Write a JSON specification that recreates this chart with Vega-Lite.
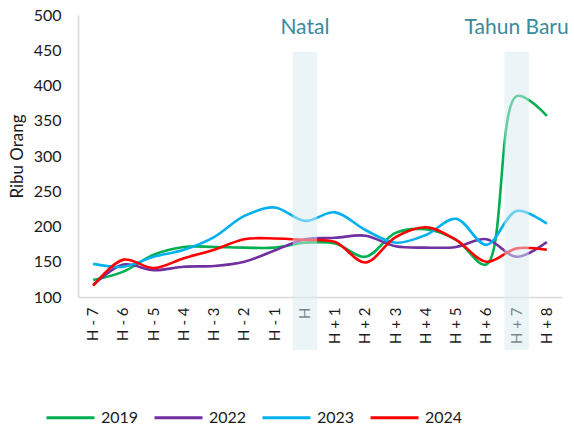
{
  "$schema": "https://vega.github.io/schema/vega-lite/v6.json",
  "autosize": {"type": "none"},
  "width": 484,
  "height": 282,
  "padding": {"left": 78, "top": 15, "right": 12, "bottom": 131},
  "background": "white",
  "config": {
    "view": {"stroke": null},
    "font": "Lato",
    "axis": {"grid": false, "ticks": false, "tickSize": 0, "domainColor": "#D9D9D9", "domainWidth": 1.5, "labelColor": "#1a1a1a", "titleColor": "#1a1a1a", "labelFont": "Lato", "titleFont": "Lato"},
    "axisY": {"labelOverlap": false, "labelFontSize": 16, "labelPadding": 17, "titleFontSize": 17, "titleFontWeight": "normal", "titlePadding": 7}
  },
  "datasets": {
    "series": [
      {"hari": "H - 7", "tahun": "2019", "nilai": 124},
      {"hari": "H - 6", "tahun": "2019", "nilai": 136},
      {"hari": "H - 5", "tahun": "2019", "nilai": 160},
      {"hari": "H - 4", "tahun": "2019", "nilai": 171},
      {"hari": "H - 3", "tahun": "2019", "nilai": 171},
      {"hari": "H - 2", "tahun": "2019", "nilai": 170},
      {"hari": "H - 1", "tahun": "2019", "nilai": 170},
      {"hari": "H", "tahun": "2019", "nilai": 177},
      {"hari": "H + 1", "tahun": "2019", "nilai": 176},
      {"hari": "H + 2", "tahun": "2019", "nilai": 157},
      {"hari": "H + 3", "tahun": "2019", "nilai": 191},
      {"hari": "H + 4", "tahun": "2019", "nilai": 196},
      {"hari": "H + 5", "tahun": "2019", "nilai": 181},
      {"hari": "H + 6", "tahun": "2019", "nilai": 146},
      {"hari": "H + 7", "tahun": "2019", "nilai": 385},
      {"hari": "H + 8", "tahun": "2019", "nilai": 357},
      {"hari": "H - 7", "tahun": "2022", "nilai": 117},
      {"hari": "H - 6", "tahun": "2022", "nilai": 146},
      {"hari": "H - 5", "tahun": "2022", "nilai": 138},
      {"hari": "H - 4", "tahun": "2022", "nilai": 143},
      {"hari": "H - 3", "tahun": "2022", "nilai": 144},
      {"hari": "H - 2", "tahun": "2022", "nilai": 150},
      {"hari": "H - 1", "tahun": "2022", "nilai": 166},
      {"hari": "H", "tahun": "2022", "nilai": 182},
      {"hari": "H + 1", "tahun": "2022", "nilai": 184},
      {"hari": "H + 2", "tahun": "2022", "nilai": 187},
      {"hari": "H + 3", "tahun": "2022", "nilai": 172},
      {"hari": "H + 4", "tahun": "2022", "nilai": 170},
      {"hari": "H + 5", "tahun": "2022", "nilai": 171},
      {"hari": "H + 6", "tahun": "2022", "nilai": 182},
      {"hari": "H + 7", "tahun": "2022", "nilai": 157},
      {"hari": "H + 8", "tahun": "2022", "nilai": 178},
      {"hari": "H - 7", "tahun": "2023", "nilai": 147},
      {"hari": "H - 6", "tahun": "2023", "nilai": 143},
      {"hari": "H - 5", "tahun": "2023", "nilai": 157},
      {"hari": "H - 4", "tahun": "2023", "nilai": 167},
      {"hari": "H - 3", "tahun": "2023", "nilai": 185},
      {"hari": "H - 2", "tahun": "2023", "nilai": 215},
      {"hari": "H - 1", "tahun": "2023", "nilai": 227},
      {"hari": "H", "tahun": "2023", "nilai": 208},
      {"hari": "H + 1", "tahun": "2023", "nilai": 220},
      {"hari": "H + 2", "tahun": "2023", "nilai": 195},
      {"hari": "H + 3", "tahun": "2023", "nilai": 177},
      {"hari": "H + 4", "tahun": "2023", "nilai": 188},
      {"hari": "H + 5", "tahun": "2023", "nilai": 211},
      {"hari": "H + 6", "tahun": "2023", "nilai": 174},
      {"hari": "H + 7", "tahun": "2023", "nilai": 222},
      {"hari": "H + 8", "tahun": "2023", "nilai": 204},
      {"hari": "H - 7", "tahun": "2024", "nilai": 116},
      {"hari": "H - 6", "tahun": "2024", "nilai": 153},
      {"hari": "H - 5", "tahun": "2024", "nilai": 141},
      {"hari": "H - 4", "tahun": "2024", "nilai": 155},
      {"hari": "H - 3", "tahun": "2024", "nilai": 167},
      {"hari": "H - 2", "tahun": "2024", "nilai": 182},
      {"hari": "H - 1", "tahun": "2024", "nilai": 183},
      {"hari": "H", "tahun": "2024", "nilai": 181},
      {"hari": "H + 1", "tahun": "2024", "nilai": 178},
      {"hari": "H + 2", "tahun": "2024", "nilai": 149},
      {"hari": "H + 3", "tahun": "2024", "nilai": 185},
      {"hari": "H + 4", "tahun": "2024", "nilai": 199},
      {"hari": "H + 5", "tahun": "2024", "nilai": 181},
      {"hari": "H + 6", "tahun": "2024", "nilai": 150},
      {"hari": "H + 7", "tahun": "2024", "nilai": 169},
      {"hari": "H + 8", "tahun": "2024", "nilai": 167}
    ],
    "libur": [
      {"hari": "H", "nama": "Natal", "atas": 448, "bawah": 25, "posisi": 481},
      {"hari": "H + 7", "nama": "Tahun Baru", "atas": 448, "bawah": 25, "posisi": 481}
    ]
  },
  "encoding": {
    "x": {
      "field": "hari", "type": "ordinal",
      "scale": {"domain": ["H - 7", "H - 6", "H - 5", "H - 4", "H - 3", "H - 2", "H - 1", "H", "H + 1", "H + 2", "H + 3", "H + 4", "H + 5", "H + 6", "H + 7", "H + 8"], "paddingInner": 0.1, "paddingOuter": 0.05},
      "axis": {"title": null, "labelAngle": -90, "labelFontSize": 15, "labelPadding": 10}
    }
  },
  "layer": [
    {
      "data": {"name": "series"},
      "mark": {"type": "line", "interpolate": "catmull-rom", "strokeWidth": 2.6},
      "encoding": {
        "y": {
          "field": "nilai", "type": "quantitative",
          "scale": {"domain": [100, 500], "nice": false, "zero": false},
          "axis": {"title": "Ribu Orang", "values": [100, 150, 200, 250, 300, 350, 400, 450, 500], "labelOverlap": false}
        },
        "color": {
          "field": "tahun", "type": "nominal",
          "scale": {"domain": ["2019", "2022", "2023", "2024"], "range": ["#00B050", "#7030A0", "#00B0F0", "#FF0000"]},
          "legend": {"title": null, "orient": "none", "direction": "horizontal", "legendX": -33, "legendY": 377, "symbolType": "stroke", "symbolSize": 2300, "symbolStrokeWidth": 3, "labelFontSize": 16, "labelOffset": 5, "columnPadding": 9, "labelColor": "#1a1a1a"}
        }
      }
    },
    {
      "data": {"name": "libur"},
      "mark": {"type": "bar", "color": "#D7EBF1", "opacity": 0.5, "width": {"band": 0.9}, "clip": false},
      "encoding": {
        "y": {"field": "atas", "type": "quantitative", "axis": {"title": "Ribu Orang", "values": [100, 150, 200, 250, 300, 350, 400, 450, 500], "labelOverlap": false}},
        "y2": {"field": "bawah"}
      }
    },
    {
      "data": {"name": "libur"},
      "mark": {"type": "text", "color": "#3A8A9E", "fontSize": 21, "baseline": "middle", "align": "center"},
      "encoding": {
        "y": {"field": "posisi", "type": "quantitative", "axis": {"title": "Ribu Orang", "values": [100, 150, 200, 250, 300, 350, 400, 450, 500], "labelOverlap": false}},
        "text": {"field": "nama"}
      }
    }
  ]
}
